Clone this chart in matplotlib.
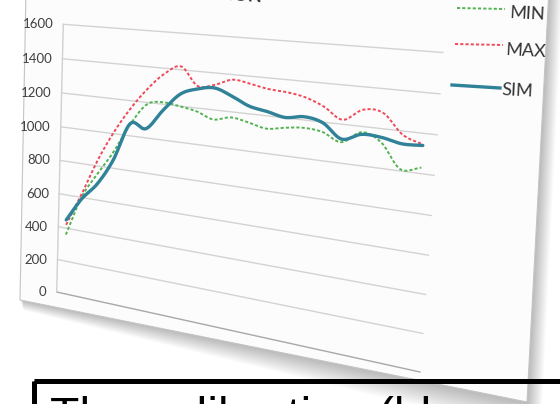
import numpy as np
import matplotlib
matplotlib.use("Agg")
import matplotlib.pyplot as plt
from matplotlib.transforms import Transform, Affine2D
from matplotlib.patches import Polygon, Rectangle

W, H = 560, 404

# ── flow series (21 time steps) ──
steps = np.arange(21)
sim_flow = [450, 591, 694, 848, 1069, 1052, 1166, 1266, 1304, 1319, 1285,
            1241, 1223, 1202, 1217, 1196, 1124, 1160, 1156, 1136, 1140]
max_flow = [420, 621, 835, 1011, 1156, 1275, 1369, 1418, 1321, 1336, 1373,
            1360, 1342, 1335, 1318, 1280, 1223, 1285, 1279, 1182, 1145]
min_flow = [361, 603, 753, 895, 1064, 1189, 1211, 1199, 1182, 1148, 1170,
            1154, 1132, 1148, 1159, 1149, 1108, 1171, 1130, 1009, 1030]
y_ticks = [0, 200, 400, 600, 800, 1000, 1200, 1400, 1600]
series_names = ["MIN", "MAX", "SIM"]


class Perspective(Transform):
    """Projective map from axes fraction to display pixels."""
    input_dims = output_dims = 2

    def __init__(self, m):
        super().__init__()
        self.m = m

    def transform_non_affine(self, values):
        v = np.asarray(values, float).reshape(-1, 2)
        h = np.column_stack([v, np.ones(len(v))]) @ self.m.T
        return h[:, :2] / h[:, 2:]


def homography(src, dst):
    A, b = [], []
    for (u, v), (x, y) in zip(src, dst):
        A.append([u, v, 1, 0, 0, 0, -u * x, -v * x]); b.append(x)
        A.append([0, 0, 0, u, v, 1, -u * y, -v * y]); b.append(y)
    h = np.linalg.solve(np.array(A, float), np.array(b, float))
    return np.append(h, 1).reshape(3, 3)


def smooth(x, y, n=12):
    # Catmull-Rom through every point, like a spreadsheet "smoothed line"
    P = np.column_stack([x, y]).astype(float)
    P = np.vstack([2 * P[0] - P[1], P, 2 * P[-1] - P[-2]])
    t = np.linspace(0, 1, n, endpoint=False)[:, None]
    out = []
    for i in range(1, len(P) - 2):
        p0, p1, p2, p3 = P[i - 1], P[i], P[i + 1], P[i + 2]
        out.append(0.5 * (2 * p1 + (-p0 + p2) * t
                          + (2 * p0 - 5 * p1 + 4 * p2 - p3) * t ** 2
                          + (-p0 + 3 * p1 - 3 * p2 + p3) * t ** 3))
    out.append(P[-2][None])
    return np.vstack(out).T


# plot area corners (image pixels, y down) for the tilted sheet
corners = [(56.7, 292), (420, 372), (443, 52.5), (63.3, 24.3)]
persp = Perspective(homography([(0, 0), (1, 0), (1, 1), (0, 1)],
                               [(x, H - y) for x, y in corners]))
img = Affine2D().scale(1, -1).translate(0, H)

fig = plt.figure(figsize=(W / 100, H / 100), dpi=100)
fig.patch.set_facecolor("white")
ax = fig.add_axes([0, 0, 1, 1])
ax.set_axis_off()
ax.set_autoscale_on(False)
ax.set_xlim(-0.53, 20.63)
ax.set_ylim(0, 1600)
tr = ax.transScale + ax.transLimits + persp
x0, x1 = ax.get_xlim()

# sheet shadow + sheet
sheet = np.array([(26, -10), (20, 300), (527, 402), (549, -10)], float)
for k in range(1, 18):
    off = np.array([(0, 0.3 * k), (0.2 * k, 0.6 * k), (0.8 * k, 2.0 * k), (0.8 * k, 0.4 * k)])
    ax.add_patch(Polygon(sheet + off, closed=True, transform=img,
                         fc="black", ec="none", alpha=0.017, zorder=0))
ax.add_patch(Polygon(sheet, closed=True, transform=img, fc="#fcfcfc",
                     ec="#c4c4c4", lw=0.8, zorder=1))

# grid, axis line and tick labels
for v in y_ticks:
    ax.plot([x0, x1], [v, v], color="#a8a8a8" if v == 0 else "#d3d3d3",
            lw=1.0, transform=tr, zorder=2)
    ax.text(x0, v, str(v), transform=tr + Affine2D().translate(-10, 0),
            ha="right", va="center", fontsize=9.5, family="Lato",
            color="#404040", zorder=2)
ax.plot([x0, x0], [0, 1600], color="#d0d0d0", lw=1.0, transform=tr, zorder=2)

# series
ax.plot(*smooth(steps, min_flow), color="#52b352", lw=1.4,
        ls=(0, (1.6, 1.1)), transform=tr, zorder=3)
ax.plot(*smooth(steps, max_flow), color="#f04a58", lw=1.4,
        ls=(0, (1.6, 1.1)), transform=tr, zorder=3)
ax.plot(*smooth(steps, sim_flow), color="#2f8297", lw=2.4,
        solid_capstyle="round", transform=tr, zorder=4)

# legend
legend_lines = [((457, 505), (8, 9)), ((455, 503), (44, 45)), ((452, 500), (85, 88))]
legend_text = [(510, 13), (506, 50), (502, 90)]
legend_style = [("#52b352", 1.4, (0, (1.6, 1.1))), ("#f04a58", 1.4, (0, (1.6, 1.1))),
                ("#2f8297", 2.4, "-")]
for name, (lx, ly), (tx, ty), (c, lw, ls) in zip(series_names, legend_lines,
                                                 legend_text, legend_style):
    ax.plot(lx, ly, color=c, lw=lw, ls=ls, transform=img, zorder=4)
    ax.text(tx, ty, name, transform=img, ha="left", va="center", fontsize=13,
            family="Lato", color="#333333", rotation=-3,
            rotation_mode="anchor", zorder=4)

# title, mostly above the frame
ax.text(262, 2.5, "CALIBRATION", transform=img, ha="right", va="baseline",
        fontsize=13, fontweight="bold", family="Lato", color="#333333",
        rotation=-4, rotation_mode="anchor", zorder=4)

# caption box
ax.add_patch(Rectangle((33.5, 380.5), 600, 100, transform=img, fill=False,
                       ec="black", lw=3.6, zorder=6))
ax.text(50, 431, "The calibration (bl", transform=img, ha="left",
        va="baseline", fontsize=34.5, family="Liberation Sans",
        color="black", zorder=6)

fig.savefig("out.png", dpi=100)
